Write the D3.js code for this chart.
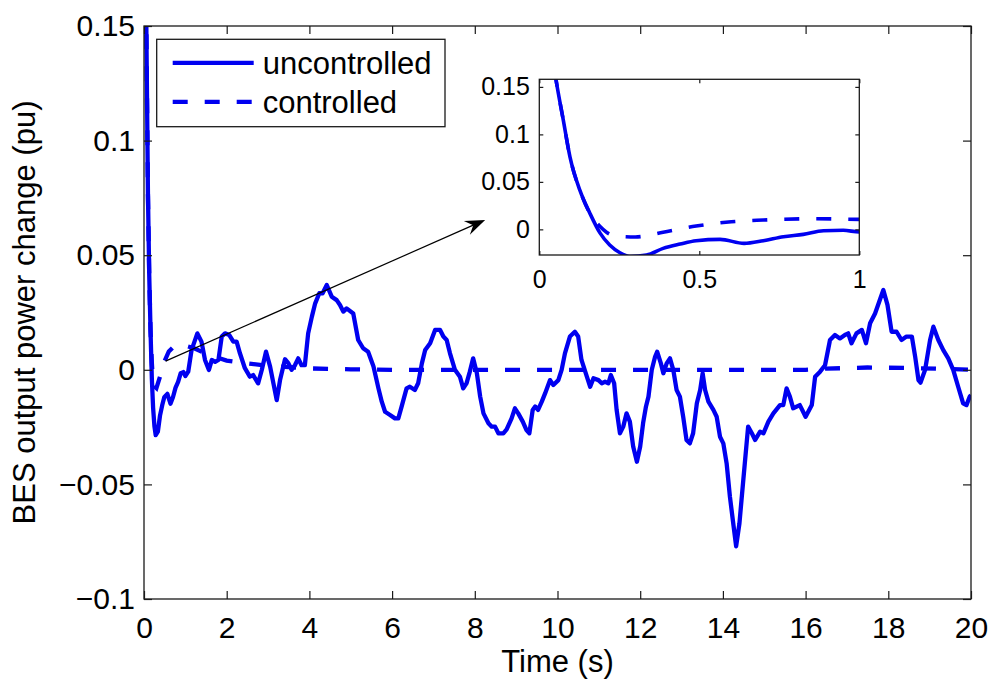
<!DOCTYPE html>
<html>
<head>
<meta charset="utf-8">
<script src="https://cdn.jsdelivr.net/npm/d3@7"></script>
<style>
  body { margin: 0; background: #fff; }
  svg { display: block; font-family: "Liberation Sans", Arial, sans-serif; }
</style>
</head>
<body>
<svg id="chart" width="992" height="679"></svg>
<script>
// series values (time in s, power change in pu)
const uncontrolledT = [0, 0.03, 0.052, 0.075, 0.096, 0.127, 0.158, 0.19, 0.22, 0.252, 0.283, 0.335, 0.387, 0.44, 0.49,
  0.565, 0.64, 0.7, 0.763, 0.825, 0.888, 0.95, 1.0, 1.07, 1.15, 1.29, 1.39, 1.475, 1.57, 1.64, 1.72, 1.8, 1.88, 1.96,
  2.06, 2.16, 2.24, 2.32, 2.44, 2.56, 2.64, 2.76, 2.85, 2.95, 3.05, 3.13, 3.21, 3.29, 3.41, 3.49, 3.57, 3.65, 3.73,
  3.81, 3.89, 3.97, 4.06, 4.14, 4.24, 4.32, 4.42, 4.54, 4.66, 4.74, 4.82, 4.9, 5.06, 5.18, 5.3, 5.42, 5.55, 5.67,
  5.75, 5.83, 5.95, 6.07, 6.15, 6.23, 6.35, 6.43, 6.55, 6.63, 6.72, 6.8, 6.92, 7.04, 7.16, 7.24, 7.32, 7.4, 7.52,
  7.64, 7.72, 7.8, 7.88, 7.96, 8.05, 8.13, 8.21, 8.33, 8.41, 8.49, 8.57, 8.69, 8.77, 8.89, 8.97, 9.05, 9.16, 9.25,
  9.32, 9.4, 9.46, 9.53, 9.62, 9.7, 9.82, 9.9, 10.02, 10.1, 10.18, 10.3, 10.42, 10.5, 10.58, 10.71, 10.79, 10.87,
  10.99, 11.07, 11.15, 11.23, 11.29, 11.37, 11.43, 11.51, 11.59, 11.67, 11.75, 11.83, 11.92, 12.0, 12.07, 12.14,
  12.2, 12.28, 12.36, 12.41, 12.5, 12.56, 12.64, 12.72, 12.8, 12.88, 12.96, 13.04, 13.12, 13.2, 13.28, 13.37,
  13.45, 13.51, 13.57, 13.65, 13.77, 13.85, 13.93, 14.01, 14.09, 14.17, 14.25, 14.32, 14.4, 14.45, 14.53, 14.61,
  14.7, 14.78, 14.9, 14.98, 15.1, 15.22, 15.38, 15.46, 15.54, 15.62, 15.7, 15.86, 16.0, 16.15, 16.23, 16.35, 16.47,
  16.59, 16.71, 16.83, 16.95, 17.03, 17.11, 17.23, 17.36, 17.46, 17.56, 17.68, 17.78, 17.88, 17.98, 18.08, 18.2,
  18.32, 18.44, 18.57, 18.65, 18.73, 18.78, 18.89, 19.01, 19.09, 19.21, 19.33, 19.45, 19.57, 19.69, 19.81, 19.89,
  19.97, 20.0];
const uncontrolledV = [0.3, 0.21, 0.158, 0.115, 0.076, 0.041, 0.017, -0.004, -0.0165, -0.0246, -0.0285, -0.027, -0.02,
  -0.0155, -0.012, -0.0105, -0.0148, -0.012, -0.0078, -0.0053, -0.0015, -0.001, -0.0027, -0.0008, 0.0086, 0.0159,
  0.0123, 0.0043, -0.0001, 0.0043, 0.0035, 0.0043, 0.0145, 0.0159, 0.0152, 0.0123, 0.0123, 0.0072, 0.0007, -0.003,
  -0.0023, -0.0059, 0, 0.0079, 0.0014, -0.0059, -0.0132, -0.0045, 0.0046, 0.0029, 0, 0.002, 0.005, 0.002, 0.002,
  0.0159, 0.0232, 0.029, 0.0334, 0.0334, 0.037, 0.0319, 0.0304, 0.0283, 0.0254, 0.0268, 0.0246, 0.013, 0.0094,
  0.0079, 0.0014, -0.0081, -0.0139, -0.0183, -0.0197, -0.0212, -0.0212, -0.0161, -0.0081, -0.0074, -0.0088, -0.0059,
  0.0028, 0.0086, 0.0116, 0.0174, 0.0174, 0.0145, 0.013, 0.0072, 0, -0.003, -0.0081, -0.0059, -0.0008, 0.005,
  -0.0015, -0.0117, -0.019, -0.0233, -0.0248, -0.0248, -0.0277, -0.0277, -0.026, -0.0212, -0.0168, -0.019, -0.0226,
  -0.0263, -0.0277, -0.0175, -0.016, -0.0175, -0.0139, -0.0103, -0.0045, -0.0066, -0.0045, 0, 0.0072, 0.0145,
  0.0166, 0.0145, 0.0043, -0.003, -0.0074, -0.0037, -0.0045, -0.0059, -0.0052, -0.0059, -0.0023, -0.0059, -0.0175,
  -0.0277, -0.0248, -0.019, -0.0226, -0.0335, -0.0401, -0.0335, -0.0233, -0.016, -0.0117, 0, 0.0057, 0.0079,
  0.0028, -0.0015, 0.0028, 0.005, 0, -0.0088, -0.0117, -0.0205, -0.0306, -0.0321, -0.0277, -0.0146, -0.0088,
  -0.0015, -0.0088, -0.0139, -0.0175, -0.0205, -0.0292, -0.0321, -0.0408, -0.0554, -0.067, -0.077, -0.067, -0.0568,
  -0.0408, -0.0248, -0.0277, -0.0306, -0.027, -0.0277, -0.0226, -0.019, -0.0154, -0.0154, -0.0081, -0.0117,
  -0.0168, -0.0154, -0.0205, -0.0154, -0.003, -0.0008, 0.002, 0.013, 0.0152, 0.0137, 0.0152, 0.0159, 0.0116,
  0.0159, 0.0174, 0.0116, 0.0203, 0.0246, 0.0297, 0.0348, 0.0283, 0.0166, 0.0166, 0.013, 0.0145, 0.0145, 0.0057,
  -0.0045, -0.0056, 0, 0.013, 0.0188, 0.013, 0.0086, 0.005, 0, -0.0074, -0.0146, -0.0154, -0.0117, -0.011];

const controlledT = [0, 0.03, 0.052, 0.075, 0.096, 0.127, 0.158, 0.19, 0.21, 0.24, 0.3, 0.387, 0.49, 0.6, 0.7, 0.85,
  1.0, 1.2, 1.5, 2.0, 2.5, 3.0, 3.5, 4.0, 5.0, 6.0, 16.0, 16.5, 17.5, 18.5, 19.5, 20.0];
const controlledV = [0.3, 0.21, 0.158, 0.115, 0.076, 0.041, 0.017, 0.003, -0.003, -0.007, -0.008, -0.003, 0.0035,
  0.008, 0.0098, 0.0112, 0.0105, 0.0095, 0.007, 0.004, 0.0028, 0.0017, 0.0012, 0.0006, 0.0002, 0, 0, 0.0005, 0.001,
  0.0008, 0.0003, 0];

const seriesNames = ["uncontrolled", "controlled"];

const xTicks = [0, 2, 4, 6, 8, 10, 12, 14, 16, 18, 20];
const xTickLabels = ["0", "2", "4", "6", "8", "10", "12", "14", "16", "18", "20"];
const yTicks = [-0.1, -0.05, 0, 0.05, 0.1, 0.15];
const yTickLabels = ["\u22120.1", "\u22120.05", "0", "0.05", "0.1", "0.15"];

const insetXTicks = [0, 0.5, 1];
const insetXTickLabels = ["0", "0.5", "1"];
const insetYTicks = [0, 0.05, 0.1, 0.15];
const insetYTickLabels = ["0", "0.05", "0.1", "0.15"];

// arrow annotation, in main-axis data units
const arrowFrom = [0.52, 0.0038];
const arrowTo = [8.25, 0.0654];

const blue = "#0000f0";
const dash = "15,17";

const svg = d3.select("#chart");
const margin = { top: 26, right: 21, bottom: 80, left: 144 };
const width = 992 - margin.left - margin.right;
const height = 679 - margin.top - margin.bottom;

const uncontrolled = uncontrolledT.map((t, i) => ({ t, v: uncontrolledV[i] }));
const controlled = controlledT.map((t, i) => ({ t, v: controlledV[i] }));

function drawFrame(g, x, y, w, h, o) {
    const bottom = g.append("g")
        .attr("transform", `translate(0,${h})`)
        .call(d3.axisBottom(x).tickValues(o.xTicks).tickSizeInner(-o.tick).tickSizeOuter(0)
            .tickPadding(o.xPad).tickFormat((d, i) => o.xLabels[i]));
    const left = g.append("g")
        .call(d3.axisLeft(y).tickValues(o.yTicks).tickSizeInner(-o.tick).tickSizeOuter(0)
            .tickPadding(o.yPad).tickFormat((d, i) => o.yLabels[i]));
    const top = g.append("g")
        .call(d3.axisTop(x).tickValues(o.xTicks).tickSizeInner(-o.tick).tickSizeOuter(0).tickFormat(""));
    const right = g.append("g")
        .attr("transform", `translate(${w},0)`)
        .call(d3.axisRight(y).tickValues(o.yTicks).tickSizeInner(-o.tick).tickSizeOuter(0).tickFormat(""));

    [bottom, left, top, right].forEach((a) => {
        a.select(".domain").remove();
        a.selectAll("line").attr("stroke", "#1a1a1a").attr("stroke-width", 1.2);
        a.selectAll("text").attr("fill", "#000").attr("font-size", o.fontSize)
            .attr("font-family", "'Liberation Sans', Arial, sans-serif");
    });

    g.append("rect")
        .attr("width", w)
        .attr("height", h)
        .attr("fill", "none")
        .attr("stroke", "#1a1a1a")
        .attr("stroke-width", 1.3);
}

// ---- main axes
const g = svg.append("g").attr("transform", `translate(${margin.left},${margin.top})`);

const x = d3.scaleLinear().domain([0, 20]).range([0, width]);
const y = d3.scaleLinear().domain([-0.1, 0.15]).range([height, 0]);

g.append("clipPath").attr("id", "clipMain")
    .append("rect").attr("width", width).attr("height", height);

const line = d3.line().x((d) => x(d.t)).y((d) => y(d.v));

const plot = g.append("g").attr("clip-path", "url(#clipMain)");
plot.append("path")
    .datum(controlled)
    .attr("d", line)
    .attr("fill", "none")
    .attr("stroke", blue)
    .attr("stroke-width", 4.3)
    .attr("stroke-dasharray", dash);
plot.append("path")
    .datum(uncontrolled)
    .attr("d", line)
    .attr("fill", "none")
    .attr("stroke", blue)
    .attr("stroke-width", 4.3)
    .attr("stroke-linejoin", "round");

drawFrame(g, x, y, width, height, {
    xTicks, xLabels: xTickLabels, yTicks, yLabels: yTickLabels,
    tick: 8, xPad: 17.5, yPad: 9, fontSize: 30,
});

// arrow from the start transient up to the inset
const ax1 = x(arrowFrom[0]), ay1 = y(arrowFrom[1]);
const ax2 = x(arrowTo[0]), ay2 = y(arrowTo[1]);
const ang = Math.atan2(ay2 - ay1, ax2 - ax1);
const headL = 20, headW = 7.5, notch = 13;
const ux = Math.cos(ang), uy = Math.sin(ang);
g.append("line")
    .attr("x1", ax1).attr("y1", ay1)
    .attr("x2", ax2 - ux * notch).attr("y2", ay2 - uy * notch)
    .attr("stroke", "#000")
    .attr("stroke-width", 1.2);
g.append("path")
    .attr("d", [
        [ax2, ay2],
        [ax2 - ux * headL - uy * headW, ay2 - uy * headL + ux * headW],
        [ax2 - ux * notch, ay2 - uy * notch],
        [ax2 - ux * headL + uy * headW, ay2 - uy * headL - ux * headW],
    ].map((p, i) => (i ? "L" : "M") + p[0] + "," + p[1]).join("") + "Z")
    .attr("fill", "#000");

// legend
const legend = g.append("g").attr("transform", "translate(12.7,13.3)");
legend.append("rect")
    .attr("width", 288.3)
    .attr("height", 87.4)
    .attr("fill", "#fff")
    .attr("stroke", "#1a1a1a")
    .attr("stroke-width", 1.3);
seriesNames.forEach((name, i) => {
    const row = legend.append("g").attr("transform", `translate(0,${23.5 + i * 39})`);
    row.append("line")
        .attr("x1", 16).attr("x2", 97)
        .attr("stroke", blue)
        .attr("stroke-width", 4.3)
        .attr("stroke-dasharray", i === 1 ? dash : null);
    row.append("text")
        .attr("x", 106)
        .attr("y", 11.3)
        .attr("font-size", 31)
        .attr("fill", "#000")
        .text(name);
});

// axis labels
svg.append("text")
    .attr("x", margin.left + width / 2)
    .attr("y", 672)
    .attr("text-anchor", "middle")
    .attr("font-size", 31)
    .attr("fill", "#000")
    .text("Time (s)");
svg.append("text")
    .attr("transform", `translate(35,${margin.top + height / 2}) rotate(-90)`)
    .attr("text-anchor", "middle")
    .attr("font-size", 31)
    .attr("fill", "#000")
    .text("BES output power change (pu)");

// ---- inset (zoom on the first second)
const inset = { left: 539.3, top: 79.3, width: 320, height: 175.7 };
const gi = svg.append("g").attr("transform", `translate(${inset.left},${inset.top})`);
gi.append("rect").attr("width", inset.width).attr("height", inset.height).attr("fill", "#fff");

const xi = d3.scaleLinear().domain([0, 1]).range([0, inset.width]);
const yi = d3.scaleLinear().domain([-0.027, 0.158]).range([inset.height, 0]);

gi.append("clipPath").attr("id", "clipInset")
    .append("rect").attr("width", inset.width).attr("height", inset.height);

const lineI = d3.line().curve(d3.curveMonotoneX).x((d) => xi(d.t)).y((d) => yi(d.v));
const plotI = gi.append("g").attr("clip-path", "url(#clipInset)");
plotI.append("path")
    .datum(controlled.filter((d) => d.t <= 1.2))
    .attr("d", lineI)
    .attr("fill", "none")
    .attr("stroke", blue)
    .attr("stroke-width", 3.6)
    .attr("stroke-dasharray", dash);
plotI.append("path")
    .datum(uncontrolled.filter((d) => d.t <= 1.1))
    .attr("d", lineI)
    .attr("fill", "none")
    .attr("stroke", blue)
    .attr("stroke-width", 3.6)
    .attr("stroke-linejoin", "round");

drawFrame(gi, xi, yi, inset.width, inset.height, {
    xTicks: insetXTicks, xLabels: insetXTickLabels, yTicks: insetYTicks, yLabels: insetYTickLabels,
    tick: 4, xPad: 15.5, yPad: 9.5, fontSize: 25,
});
</script>
</body>
</html>
